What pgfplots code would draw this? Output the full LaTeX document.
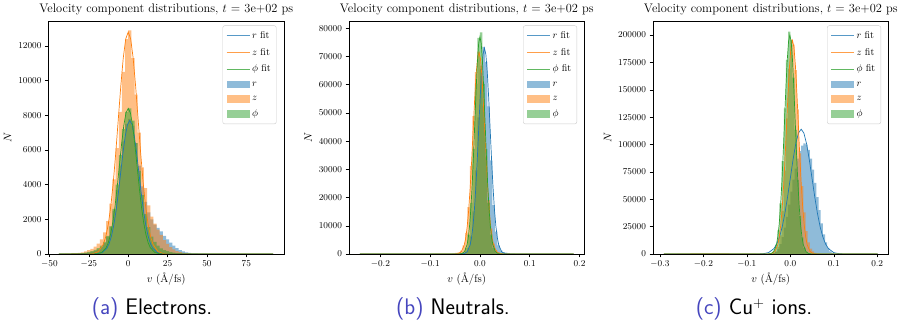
\documentclass[border=0pt]{standalone}
\usepackage{fontspec}
\usepackage{pgfplots}
\pgfplotsset{compat=1.18}
\definecolor{tabblue}{RGB}{31,119,180}
\definecolor{taborange}{RGB}{255,127,14}
\definecolor{tabgreen}{RGB}{44,160,44}
\definecolor{capblue}{RGB}{70,70,190}
\pgfplotsset{
  panel/.style={
    scale only axis, width=235.5pt, height=233pt,
    anchor=south west, ymin=0,
    tick align=outside, tick pos=left,
    major tick length=3.5pt,
    every tick/.style={black, line width=0.5pt},
    axis line style={black, line width=0.5pt},
    scaled x ticks=false, scaled y ticks=false,
    yticklabel style={/pgf/number format/fixed, /pgf/number format/1000 sep={}},
    tick label style={font=\fontsize{9.4}{11}\selectfont},
    label style={font=\fontsize{11}{13}\selectfont},
    title style={font=\fontsize{12.4}{14}\selectfont, yshift=-3.5pt},
    title={Velocity component distributions, $t$ = 3e+02 ps},
    xlabel={$v$ (\AA/fs)}, ylabel={$N$},
    xlabel style={yshift=2pt},
    legend cell align=left,
    legend style={at={(1,1)}, anchor=north east, xshift=-7.5pt, yshift=-4.5pt,
      draw=black!20, rounded corners=2pt, fill=white,
      font=\fontsize{10}{11}\selectfont, row sep=4.3pt, inner sep=3.5pt},
  },
  mylineleg/.style={legend image code/.code={\draw[##1, sharp corners] (0pt,0pt) -- (23pt,0pt);}},
  mypatchleg/.style={legend image code/.code={\fill[##1, sharp corners, draw=none] (0pt,-3.8pt) rectangle (23pt,3.8pt);}},
  hist/.style={const plot mark left, draw=none, fill=#1, fill opacity=0.5, forget plot},
  fit/.style={draw=#1, line width=0.7pt, forget plot},
  fixx/.style={xticklabel style={/pgf/number format/fixed, /pgf/number format/fixed zerofill, /pgf/number format/precision=1}},
}
\newcommand{\mylegend}{%
  \addlegendimage{mylineleg, draw=tabblue!75, line width=0.8pt}
  \addlegendentry{$r$ fit}
  \addlegendimage{mylineleg, draw=taborange!75, line width=0.8pt}
  \addlegendentry{$z$ fit}
  \addlegendimage{mylineleg, draw=tabgreen!75, line width=0.8pt}
  \addlegendentry{$\phi$ fit}
  \addlegendimage{mypatchleg, fill=tabblue!50}
  \addlegendentry{$r$}
  \addlegendimage{mypatchleg, fill=taborange!50}
  \addlegendentry{$z$}
  \addlegendimage{mypatchleg, fill=tabgreen!50}
  \addlegendentry{$\phi$}
}
\begin{document}
\begin{tikzpicture}
\useasboundingbox (0,0) rectangle (898pt,321pt);
% ---------------- (a) Electrons ----------------
\begin{axis}[panel, at={(48.5pt,67pt)}, xmin=-50.6, xmax=98.9, ymax=13440,
  xtick={-50,-25,0,25,50,75}, ytick={0,2000,4000,6000,8000,10000,12000}]
\mylegend
\addplot[hist=tabblue] coordinates {(-44,5) (-40,10) (-36,18) (-32,30) (-30,45) (-28,60) (-26,85) (-24,120) (-22,180) (-20,270) (-18,400) (-16,620) (-14,1000) (-12,1600) (-10,2500) (-8,3700) (-6,5100) (-4,6500) (-2,7500) (0,7800) (2,7400) (4,6400) (6,5100) (8,3900) (10,3000) (12,2400) (14,2000) (16,1700) (18,1500) (20,1300) (22,1050) (24,850) (26,650) (28,480) (30,340) (32,230) (34,150) (36,100) (38,65) (40,35) (44,20) (50,10) (70,4) (92,0)} \closedcycle;
\addplot[hist=taborange] coordinates {(-44,10) (-40,25) (-36,45) (-32,70) (-30,100) (-28,150) (-26,220) (-24,300) (-22,420) (-20,600) (-18,850) (-16,1250) (-14,1900) (-12,2900) (-10,4300) (-8,6100) (-6,8200) (-4,10500) (-2,12400) (0,12900) (2,11300) (4,9200) (6,7000) (8,5000) (10,3800) (12,2800) (14,2150) (16,1750) (18,1400) (20,1100) (22,800) (24,580) (26,400) (28,260) (30,170) (32,110) (34,70) (36,45) (38,25) (40,12) (50,6) (70,3) (92,0)} \closedcycle;
\addplot[hist=tabgreen] coordinates {(-44,5) (-40,10) (-36,20) (-32,35) (-30,55) (-28,80) (-26,120) (-24,170) (-22,240) (-20,340) (-18,480) (-16,700) (-14,1050) (-12,1600) (-10,2600) (-8,4000) (-6,5700) (-4,7200) (-2,8200) (0,8400) (2,7700) (4,6400) (6,4800) (8,3400) (10,2300) (12,1550) (14,1000) (16,700) (18,480) (20,330) (22,230) (24,160) (26,110) (28,75) (30,50) (34,25) (40,10) (50,4) (92,0)} \closedcycle;
\addplot[fit=tabblue] coordinates {(-44,0) (-22.2,2) (-19.3,17) (-16.4,85) (-13.5,338) (-12.05,613) (-10.6,1042) (-9.15,1666) (-7.7,2500) (-6.25,3525) (-4.8,4670) (-3.35,5812) (-1.9,6795) (-0.45,7463) (1,7700) (2.45,7463) (3.9,6795) (5.35,5812) (6.8,4670) (8.25,3525) (9.7,2500) (11.15,1666) (12.6,1042) (14.05,613) (15.5,338) (18.4,85) (21.3,17) (24.2,2) (92,0)};
\addplot[fit=taborange] coordinates {(-44,0) (-25.2,4) (-22.05,28) (-18.9,142) (-15.75,562) (-14.175,1019) (-12.6,1732) (-11.025,2769) (-9.45,4156) (-7.875,5860) (-6.3,7763) (-4.725,9661) (-3.15,11296) (-1.575,12406) (0,12800) (1.575,12406) (3.15,11296) (4.725,9661) (6.3,7763) (7.875,5860) (9.45,4156) (11.025,2769) (12.6,1732) (14.175,1019) (15.75,562) (18.9,142) (22.05,28) (25.2,4) (92,0)};
\addplot[fit=tabgreen] coordinates {(-44,0) (-22.4,3) (-19.6,18) (-16.8,93) (-14,369) (-12.6,669) (-11.2,1137) (-9.8,1817) (-8.4,2727) (-7,3846) (-5.6,5095) (-4.2,6340) (-2.8,7413) (-1.4,8141) (0,8400) (1.4,8141) (2.8,7413) (4.2,6340) (5.6,5095) (7,3846) (8.4,2727) (9.8,1817) (11.2,1137) (12.6,669) (14,369) (16.8,93) (19.6,18) (22.4,3) (92,0)};
\end{axis}
% ---------------- (b) Neutrals ----------------
\begin{axis}[panel, fixx, at={(349pt,67pt)}, xmin=-0.263, xmax=0.21, ymax=82600,
  xtick={-0.2,-0.1,0,0.1,0.2}, ytick={0,10000,20000,30000,40000,50000,60000,70000,80000}]
\mylegend
\addplot[hist=tabblue] coordinates {(-0.241,10) (-0.15,20) (-0.09,40) (-0.06,70) (-0.05,100) (-0.045,150) (-0.04,200) (-0.035,350) (-0.03,800) (-0.025,2300) (-0.02,6250) (-0.015,15100) (-0.01,29600) (-0.005,48400) (0.0,65600) (0.005,73400) (0.01,68100) (0.015,52300) (0.02,33200) (0.025,17300) (0.03,7900) (0.035,3100) (0.04,1300) (0.045,700) (0.05,450) (0.055,280) (0.06,160) (0.065,90) (0.07,50) (0.08,30) (0.12,12) (0.188,0)} \closedcycle;
\addplot[hist=taborange] coordinates {(-0.241,30) (-0.18,45) (-0.13,70) (-0.09,100) (-0.07,130) (-0.06,150) (-0.055,250) (-0.05,400) (-0.045,600) (-0.04,1200) (-0.035,3100) (-0.03,7500) (-0.025,16600) (-0.02,31200) (-0.015,48900) (-0.01,64500) (-0.005,71700) (0.0,66800) (0.005,52500) (0.01,34500) (0.015,19100) (0.02,8960) (0.025,3700) (0.03,1400) (0.035,600) (0.04,350) (0.045,200) (0.05,120) (0.06,60) (0.08,30) (0.12,15) (0.188,0)} \closedcycle;
\addplot[hist=tabgreen] coordinates {(-0.241,10) (-0.15,20) (-0.09,35) (-0.06,50) (-0.05,60) (-0.045,100) (-0.04,200) (-0.035,600) (-0.03,2200) (-0.025,6890) (-0.02,18100) (-0.015,37300) (-0.01,60300) (-0.005,76600) (0.0,78600) (0.005,60300) (0.01,37300) (0.015,18100) (0.02,6890) (0.025,2200) (0.03,600) (0.035,200) (0.04,100) (0.045,60) (0.05,40) (0.07,20) (0.12,8) (0.188,0)} \closedcycle;
\addplot[fit=tabblue] coordinates {(-0.241,0) (-0.037,22) (-0.03125,161) (-0.0255,810) (-0.01975,3205) (-0.016875,5811) (-0.014,9877) (-0.011125,15790) (-0.00825,23703) (-0.005375,33419) (-0.0025,44275) (0.000375,55100) (0.00325,64423) (0.006125,70752) (0.009,73000) (0.011875,70752) (0.01475,64423) (0.017625,55100) (0.0205,44275) (0.023375,33419) (0.02625,23703) (0.029125,15790) (0.032,9877) (0.034875,5811) (0.03775,3205) (0.0435,810) (0.04925,161) (0.055,22) (0.188,0)};
\addplot[fit=taborange] coordinates {(-0.241,0) (-0.0492,21) (-0.0433,157) (-0.0374,794) (-0.0315,3139) (-0.02855,5691) (-0.0256,9674) (-0.02265,15465) (-0.0197,23216) (-0.01675,32733) (-0.0138,43365) (-0.01085,53968) (-0.0079,63099) (-0.00495,69298) (-0.002,71500) (0.00095,69298) (0.0039,63099) (0.00685,53968) (0.0098,43365) (0.01275,32733) (0.0157,23216) (0.01865,15465) (0.0216,9674) (0.02455,5691) (0.0275,3139) (0.0334,794) (0.0393,157) (0.0452,21) (0.188,0)};
\addplot[fit=tabgreen] coordinates {(-0.241,0) (-0.0412,23) (-0.03605,169) (-0.0309,855) (-0.02575,3380) (-0.023175,6129) (-0.0206,10418) (-0.018025,16655) (-0.01545,25002) (-0.012875,35251) (-0.0103,46701) (-0.007725,58120) (-0.00515,67953) (-0.002575,74628) (0,77000) (0.002575,74628) (0.00515,67953) (0.007725,58120) (0.0103,46701) (0.012875,35251) (0.01545,25002) (0.018025,16655) (0.0206,10418) (0.023175,6129) (0.02575,3380) (0.0309,855) (0.03605,169) (0.0412,23) (0.188,0)};
\end{axis}
% ---------------- (c) Cu+ ions ----------------
\begin{axis}[panel, fixx, at={(653pt,67pt)}, xmin=-0.316, xmax=0.226, ymax=212800,
  xtick={-0.3,-0.2,-0.1,0,0.1,0.2}, ytick={0,25000,50000,75000,100000,125000,150000,175000,200000}]
\mylegend
\addplot[hist=tabblue] coordinates {(-0.291,20) (-0.2,40) (-0.12,80) (-0.07,150) (-0.05,200) (-0.045,300) (-0.04,800) (-0.035,2000) (-0.03,4500) (-0.025,9000) (-0.02,15500) (-0.015,24000) (-0.01,34000) (-0.005,45000) (0.0,57000) (0.005,68000) (0.01,78000) (0.015,87000) (0.02,94000) (0.025,99000) (0.03,101000) (0.035,100000) (0.04,95000) (0.045,87000) (0.05,77000) (0.055,65000) (0.06,52000) (0.065,40000) (0.07,28000) (0.075,18000) (0.08,10500) (0.085,5500) (0.09,2500) (0.095,1000) (0.1,400) (0.105,150) (0.11,60) (0.13,20) (0.201,0)} \closedcycle;
\addplot[hist=taborange] coordinates {(-0.291,100) (-0.26,400) (-0.23,700) (-0.2,900) (-0.17,700) (-0.14,450) (-0.11,300) (-0.08,200) (-0.06,100) (-0.055,200) (-0.05,300) (-0.045,500) (-0.04,900) (-0.035,2400) (-0.03,6500) (-0.025,17000) (-0.02,39300) (-0.015,76200) (-0.01,123900) (-0.005,169300) (0.0,196000) (0.005,191300) (0.01,168000) (0.015,132000) (0.02,92000) (0.025,62000) (0.03,38000) (0.035,21000) (0.04,10500) (0.045,5000) (0.05,2300) (0.055,1100) (0.06,550) (0.065,280) (0.07,150) (0.09,60) (0.13,20) (0.201,0)} \closedcycle;
\addplot[hist=tabgreen] coordinates {(-0.291,20) (-0.2,40) (-0.12,60) (-0.08,90) (-0.06,100) (-0.055,200) (-0.05,400) (-0.045,1000) (-0.04,3000) (-0.035,8490) (-0.03,21500) (-0.025,46300) (-0.02,84900) (-0.015,133000) (-0.01,177400) (-0.005,203000) (0.0,195300) (0.005,161000) (0.01,113300) (0.015,67800) (0.02,34700) (0.025,15100) (0.03,5600) (0.035,2000) (0.04,700) (0.045,300) (0.05,150) (0.06,60) (0.1,20) (0.201,0)} \closedcycle;
\addplot[fit=tabblue] coordinates {(-0.291,0) (-0.075,34) (-0.0625,251) (-0.05,1265) (-0.0375,5005) (-0.03125,9074) (-0.025,15424) (-0.01875,24658) (-0.0125,37016) (-0.00625,52189) (0,69141) (0.00625,86047) (0.0125,100605) (0.01875,110489) (0.025,114000) (0.03125,110489) (0.0375,100605) (0.04375,86047) (0.05,69141) (0.05625,52189) (0.0625,37016) (0.06875,24658) (0.075,15424) (0.08125,9074) (0.0875,5005) (0.1,1265) (0.1125,251) (0.125,34) (0.201,0)};
\addplot[fit=taborange] coordinates {(-0.291,0) (-0.049,59) (-0.04225,429) (-0.0355,2165) (-0.02875,8561) (-0.025375,15522) (-0.022,26384) (-0.018625,42179) (-0.01525,63317) (-0.011875,89271) (-0.0085,118268) (-0.005125,147186) (-0.00175,172088) (0.001625,188994) (0.005,195000) (0.008375,188994) (0.01175,172088) (0.015125,147186) (0.0185,118268) (0.021875,89271) (0.02525,63317) (0.028625,42179) (0.032,26384) (0.035375,15522) (0.03875,8561) (0.0455,2165) (0.05225,429) (0.059,59) (0.201,0)};
\addplot[fit=tabgreen] coordinates {(-0.291,0) (-0.0502,60) (-0.04405,440) (-0.0379,2220) (-0.03175,8780) (-0.028675,15920) (-0.0256,27060) (-0.022525,43260) (-0.01945,64940) (-0.016375,91560) (-0.0133,121300) (-0.010225,150960) (-0.00715,176500) (-0.004075,193840) (-0.001,200000) (0.002075,193840) (0.00515,176500) (0.008225,150960) (0.0113,121300) (0.014375,91560) (0.01745,64940) (0.020525,43260) (0.0236,27060) (0.026675,15920) (0.02975,8780) (0.0359,2220) (0.04205,440) (0.0482,60) (0.201,0)};
\end{axis}
% ---------------- captions ----------------
\node[anchor=base, font=\fontsize{22.5}{27}\sffamily\selectfont] at (152pt,6pt) {\textcolor{capblue}{(a)} Electrons.};
\node[anchor=base, font=\fontsize{22.5}{27}\sffamily\selectfont] at (453pt,6pt) {\textcolor{capblue}{(b)} Neutrals.};
\node[anchor=base, font=\fontsize{22.5}{27}\sffamily\selectfont] at (754pt,6pt) {\textcolor{capblue}{(c)} Cu$^{+}$ ions.};
\end{tikzpicture}
\end{document}
